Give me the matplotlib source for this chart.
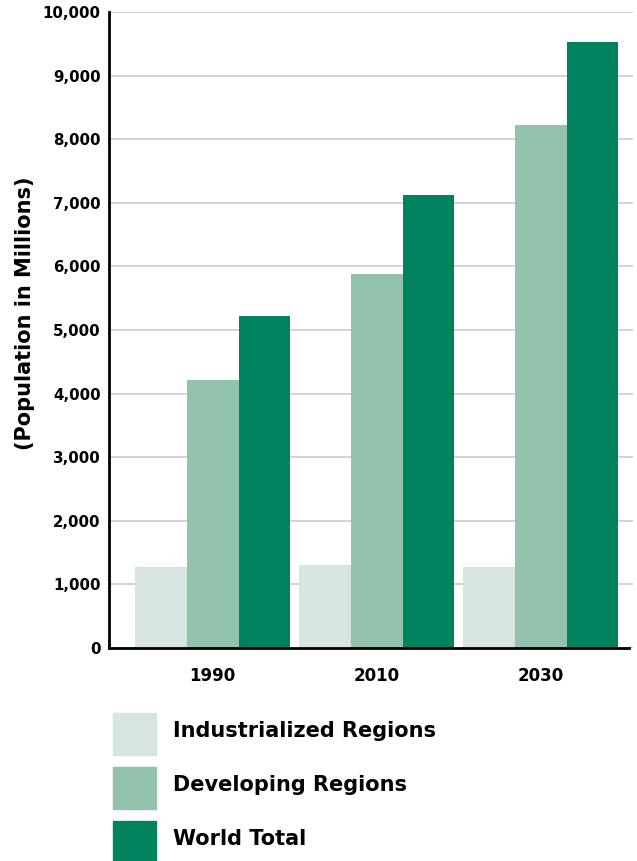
import matplotlib
matplotlib.use("Agg")
import matplotlib.pyplot as plt
from matplotlib.patches import Rectangle
import numpy as np

years = ["1990", "2010", "2030"]
series_names = ["Industrialized Regions", "Developing Regions", "World Total"]
industrialized = [1280, 1310, 1280]
developing = [4210, 5880, 8220]
world = [5215, 7120, 9530]
colors = ["#D6E5DE", "#92C1AC", "#00825F"]
yticks = [0, 1000, 2000, 3000, 4000, 5000, 6000, 7000, 8000, 9000, 10000]

plt.rcParams['font.family'] = ['DejaVu Sans']
plt.rcParams['font.weight'] = 'bold'

W, H = 637, 861
fig = plt.figure(figsize=(W / 100, H / 100), dpi=100)
left, right, top, bottom = 109, 633, 12, 648
ax = fig.add_axes([left / W, 1 - bottom / H, (right - left) / W, (bottom - top) / H])

x = np.arange(len(years))
bw = 0.315
for i, (vals, c) in enumerate(zip([industrialized, developing, world], colors)):
    ax.bar(x + (i - 1) * bw, vals, width=bw, color=c, zorder=3, linewidth=0)

ax.set_xlim(-0.633, 2.563)
ax.set_ylim(0, 10000)
ax.set_yticks(yticks)
ax.set_yticklabels([f"{v:,}" for v in yticks], fontsize=10.8, fontweight='bold')
ax.set_xticks(x)
ax.set_xticklabels(years, fontsize=12, fontweight='bold')
ax.tick_params(axis='both', length=0)
ax.tick_params(axis='y', pad=6)
ax.tick_params(axis='x', pad=14)
ax.grid(axis='y', color='#CCCCCC', linewidth=1.2, zorder=0)
for s in ['top', 'right']:
    ax.spines[s].set_visible(False)
ax.spines['left'].set_linewidth(2)
ax.spines['bottom'].set_linewidth(2)
ax.spines['bottom'].set_bounds(-0.633, 2.54)
ax.spines['left'].set_zorder(4)
ax.spines['bottom'].set_zorder(4)
ax.set_ylabel("(Population in Millions)", fontsize=15, fontweight='bold')
ax.yaxis.label.set_va('center')
ax.yaxis.set_label_coords((25 - left) / (right - left), 1 - (313 - top) / (bottom - top))

# legend
box_y = [713, 767, 821]
for yy, c, name in zip(box_y, colors, series_names):
    fig.patches.append(Rectangle((113 / W, 1 - (yy + 42) / H), 43 / W, 42 / H,
                                 transform=fig.transFigure, color=c, figure=fig))
    fig.text(173 / W, 1 - (yy + 18) / H, name, fontsize=15, fontweight='bold',
             va='center', ha='left')

fig.savefig("out.png", dpi=100)
